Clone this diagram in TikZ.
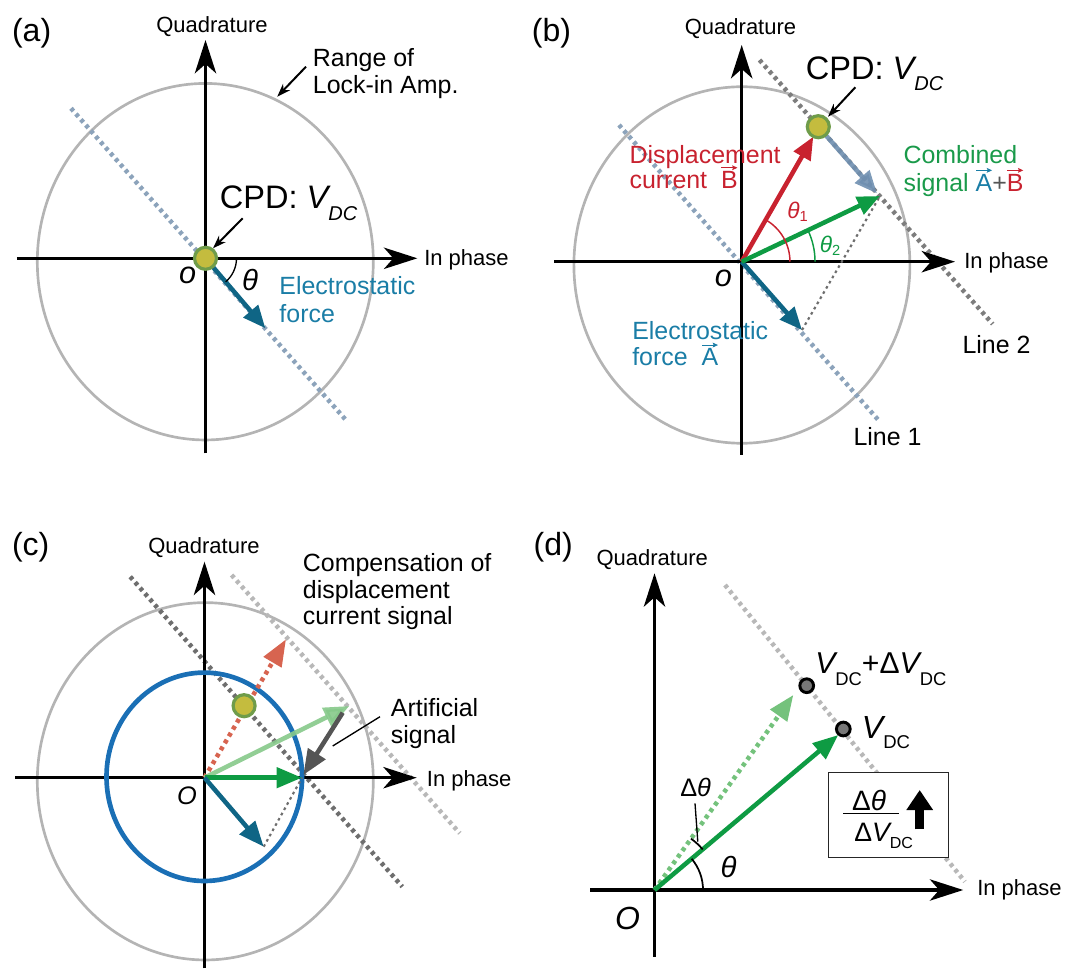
\documentclass[tikz,border=0pt]{standalone}
\usepackage{fontspec}
\setmainfont{Liberation Sans}
\usetikzlibrary{arrows.meta}
\definecolor{tealA}{HTML}{0F6585}
\definecolor{tealT}{HTML}{1A7DA6}
\definecolor{redA}{HTML}{C8222F}
\definecolor{greenA}{HTML}{0E9B43}
\definecolor{greenT}{HTML}{1A9A4A}
\definecolor{lgreen}{HTML}{86C98A}
\definecolor{lgreenD}{HTML}{74C27C}
\definecolor{salmon}{HTML}{D76450}
\definecolor{steel}{HTML}{6F8FB0}
\definecolor{bgdot}{HTML}{8CA3BB}
\definecolor{dgdot}{HTML}{6E6E6E}
\definecolor{mgdot}{HTML}{7D7D7D}
\definecolor{lgdot}{HTML}{B8B8B8}
\definecolor{darkarr}{HTML}{555555}
\definecolor{ringgray}{HTML}{B4B4B4}
\definecolor{blueC}{HTML}{1A6FB5}
\definecolor{dotfill}{HTML}{C4BC3E}
\definecolor{dotring}{HTML}{6F9C4A}
\definecolor{ddfill}{HTML}{777777}
\newcommand{\fsz}[1]{\fontsize{#1}{#1}\selectfont}
\newlength{\arrwd}
\newcommand{\arrv}[2]{\settowidth{\arrwd}{#2}\rlap{\smash{\raisebox{0.84em}{\tikz[baseline=0pt]\draw[draw=#1, line width=0.7pt, -{Stealth[length=4pt,width=3.6pt,inset=0.8pt]}] (0.5pt,0pt) -- (\arrwd,0pt);}}}\textcolor{#1}{#2}}
\tikzset{
  axis/.style={line width=2.3pt, -{Stealth[length=25pt,width=16pt,inset=7pt]}},
  rangeell/.style={draw=ringgray, line width=2pt},
  vecarr/.style={line width=3.4pt, -{Triangle[length=17pt,width=14pt]}},
  bigvec/.style={line width=3.4pt, -{Triangle[length=19pt,width=15pt]}},
  dotline/.style={line width=3.4pt, dash pattern=on 2.8pt off 2.8pt},
  thindot/.style={draw=dgdot, line width=1.6pt, dash pattern=on 2pt off 2.5pt},
  cpddot/.style={circle, fill=dotfill, draw=dotring, line width=2.4pt, minimum size=16.5pt, inner sep=0pt},
  grdot/.style={circle, fill=ddfill, draw=black, line width=2.2pt, minimum size=10.3pt, inner sep=0pt},
  lbl/.style={inner sep=0pt, anchor=base west},
  clbl/.style={inner sep=0pt, anchor=base},
  ptr/.style={line width=1.5pt, -{Stealth[length=10pt,width=7pt]}},
  axlbl/.style={font=\fsz{16.5}},
  desc/.style={font=\fsz{18.7}},
  panel/.style={font=\fsz{24}},
}
\begin{document}
\begin{tikzpicture}[x=0.75pt,y=0.75pt]
\useasboundingbox (0,0) rectangle (1067,-969);

%================ (a) =================
\coordinate (Oa) at (205.5,-258.3);
\coordinate (Ea) at (205.3,-261.7);
\draw[rangeell] (Ea) ellipse [x radius=126pt, y radius=133.7pt];
\coordinate (L1a) at (71,-108.3);
\coordinate (L2a) at (346.5,-420.7);
\draw[dotline, bgdot] (L1a) -- (L2a);
\coordinate (axaL) at (16.9,-258.3);
\coordinate (axaR) at (417.3,-258.3);
\coordinate (axaB) at (205.5,-453.3);
\coordinate (axaT) at (205.5,-40);
\draw[axis] (axaL) -- (axaR);
\draw[axis] (axaB) -- (axaT);
\coordinate (Ta) at (265.4,-328.3);
\draw[vecarr, tealA] (Oa) -- (Ta);
\draw[line width=1pt] (Oa) ++(0:23.25pt) arc[start angle=0, end angle=-49.4, radius=23.25pt];
\node[cpddot] (cpda) at (Oa) {};
\node (tha) at (250.2,-280) {\fsz{22}\itshape θ};
\node (oa) at (187.6,-275) {\fsz{23}\itshape o};
\node[lbl] (cpdta) at (219.7,-208.3) {\fsz{24.4}CPD: \itshape V\raisebox{-8.8pt}{\fsz{15}DC}};
\coordinate (pa1) at (242.7,-218.3);
\coordinate (pa2) at (213,-248.3);
\draw[ptr] (pa1) -- (pa2);
\node[lbl, desc] (rga1) at (312.7,-66.7) {Range of};
\node[lbl, desc] (rga2) at (312.7,-93.3) {Lock-in Amp.};
\coordinate (pr1) at (306,-66.7);
\coordinate (pr2) at (277.2,-96.7);
\draw[ptr] (pr1) -- (pr2);
\node[lbl, desc, text=tealT] (esa1) at (279.2,-295) {Electrostatic};
\node[lbl, desc, text=tealT] (esa2) at (279.2,-322.3) {force};
\node[lbl, axlbl] (ipa) at (424,-266) {In phase};
\node[clbl, axlbl] (qa) at (212,-33) {Quadrature};
\node[lbl, panel] (pna) at (11.8,-41.7) {(a)};

%================ (b) =================
\coordinate (Ob) at (741.7,-261.7);
\coordinate (Eb) at (741.9,-265);
\draw[rangeell] (Eb) ellipse [x radius=126pt, y radius=133.7pt];
\coordinate (L1b1) at (619,-125);
\coordinate (L1b2) at (878.3,-420);
\draw[dotline, bgdot] (L1b1) -- (L1b2);
\coordinate (L2b1) at (759.5,-60);
\coordinate (L2b2) at (992.7,-324);
\draw[dotline, mgdot] (L2b1) -- (L2b2);
\coordinate (axbL) at (554,-261.7);
\coordinate (axbR) at (955,-261.7);
\coordinate (axbB) at (741.7,-455);
\coordinate (axbT) at (741.7,-45);
\draw[axis] (axbL) -- (axbR);
\draw[axis] (axbB) -- (axbT);
\coordinate (Tb) at (802,-330);
\coordinate (Gb) at (880,-196);
\coordinate (Rb) at (813.3,-136.7);
\coordinate (Db) at (818.3,-126.7);
\coordinate (Sb) at (877,-193.5);
\draw[thindot] (Tb) -- (Gb);
\draw[vecarr, tealA] (Ob) -- (Tb);
\draw[vecarr, steel, opacity=0.9] (Db) -- (Sb);
\draw[vecarr, redA] (Ob) -- (Rb);
\draw[vecarr, greenA] (Ob) -- (Gb);
\draw[redA, line width=1.1pt] (Ob) ++(0:36.2pt) arc[start angle=0, end angle=60.2, radius=36.2pt];
\draw[greenA, line width=1.1pt] (Ob) ++(0:55pt) arc[start angle=0, end angle=25.4, radius=55pt];
\node[cpddot] (cpdb) at (Db) {};
\node[text=redA] (th1) at (797.5,-211.7) {\fsz{17}\itshape θ\raisebox{-2pt}{\fsz{11}\upshape 1}};
\node[text=greenA] (th2) at (830,-245.8) {\fsz{17}\itshape θ\raisebox{-2pt}{\fsz{11}\upshape 2}};
\node (ob) at (723.5,-278.3) {\fsz{23}\itshape o};
\node[lbl] (cpdtb) at (805.7,-80) {\fsz{24.4}CPD: \itshape V\raisebox{-8pt}{\fsz{15}DC}};
\coordinate (pb1) at (855.3,-87.3);
\coordinate (pb2) at (828,-116.7);
\draw[ptr] (pb1) -- (pb2);
\node[lbl, desc, text=redA] (dsb1) at (629.3,-163.3) {Displacement};
\node[lbl, desc, text=redA] (dsb2) at (629.3,-188.7) {current \ \arrv{redA}{B}};
\node[lbl, desc, text=greenT] (cbb1) at (903.3,-164) {Combined};
\node[lbl, desc, text=greenT] (cbb2) at (903.3,-191.3) {signal \arrv{tealT}{A}\textcolor{darkarr}{+}\arrv{redA}{B}};
\node[lbl, desc, text=tealT] (esb1) at (632,-339.3) {Electrostatic};
\node[lbl, desc, text=tealT] (esb2) at (632,-366) {force \ \arrv{tealT}{A}};
\node[lbl, desc] (ln2) at (962.3,-353.3) {Line 2};
\node[lbl, desc] (ln1) at (853.3,-446) {Line 1};
\node[lbl, axlbl] (ipb) at (964,-269) {In phase};
\node[clbl, axlbl] (qb) at (740.5,-34.5) {Quadrature};
\node[lbl, panel] (pnb) at (531.7,-41.7) {(b)};

%================ (c) =================
\coordinate (Oc) at (204.5,-777.7);
\coordinate (Ec) at (205.3,-781.3);
\draw[rangeell] (Ec) ellipse [x radius=126pt, y radius=134pt];
\coordinate (Dc1) at (130.2,-576.7);
\coordinate (Dc2) at (402.3,-886.7);
\draw[dotline, dgdot] (Dc1) -- (Dc2);
\coordinate (Lc1) at (231.6,-575);
\coordinate (Lc2) at (459.8,-833.3);
\draw[dotline, lgdot] (Lc1) -- (Lc2);
\coordinate (axcL) at (15.2,-777.7);
\coordinate (axcR) at (416.7,-777.7);
\coordinate (axcB) at (204.5,-968.3);
\coordinate (axcT) at (204.5,-561.7);
\draw[axis] (axcL) -- (axcR);
\draw[axis] (axcB) -- (axcT);
\coordinate (Bc) at (204.3,-776.8);
\draw[blueC, line width=3.5pt] (Bc) ellipse [x radius=73.35pt, y radius=78.15pt];
\coordinate (Rc) at (286,-639.3);
\coordinate (LGc) at (349.3,-706);
\coordinate (Gc) at (302,-777.7);
\coordinate (Tc) at (263.7,-846.7);
\coordinate (Ac1) at (342.7,-712.7);
\coordinate (Ac2) at (303.3,-775);
\draw[thindot] (Tc) -- (Gc);
\draw[line width=3.4pt, salmon, dash pattern=on 3pt off 3pt, -{Triangle[length=20pt,width=15pt]}] (Oc) -- (Rc);
\draw[bigvec, lgreen, opacity=0.9] (Oc) -- (LGc);
\draw[bigvec, greenA] (Oc) -- (Gc);
\draw[bigvec, tealA] (Oc) -- (Tc);
\draw[bigvec, darkarr] (Ac1) -- (Ac2);
\node[cpddot] (cpdc) at (244.1,-705.7) {};
\node (oc) at (187,-796) {\fsz{19}\itshape O};
\node[lbl, desc] (cmc1) at (302.7,-571.7) {Compensation of};
\node[lbl, desc] (cmc2) at (302.7,-598) {displacement};
\node[lbl, desc] (cmc3) at (302.7,-624.3) {current signal};
\node[lbl, desc] (arc1) at (390.7,-716.7) {Artificial};
\node[lbl, desc] (arc2) at (390.7,-743.3) {signal};
\coordinate (lc1) at (380,-716.7);
\coordinate (lc2) at (332.7,-746);
\draw[line width=1pt] (lc1) -- (lc2);
\node[lbl, axlbl] (ipc) at (426.7,-786.7) {In phase};
\node[clbl, axlbl] (qc) at (204,-553.3) {Quadrature};
\node[lbl, panel] (pnc) at (11.8,-555) {(c)};

%================ (d) =================
\coordinate (Od) at (654.5,-890);
\coordinate (Ld1) at (725,-585);
\coordinate (Ld2) at (964.9,-881.7);
\draw[dotline, lgdot] (Ld1) -- (Ld2);
\coordinate (axdL) at (590,-890);
\coordinate (axdR) at (963.2,-890);
\coordinate (axdB) at (654.5,-956.7);
\coordinate (axdT) at (654.5,-573.3);
\draw[axis] (axdL) -- (axdR);
\draw[axis] (axdB) -- (axdT);
\coordinate (LGd) at (793.3,-695);
\coordinate (Gd) at (838.3,-735);
\draw[line width=3.4pt, lgreenD, dash pattern=on 3pt off 3pt, -{Triangle[length=19pt,width=15pt]}] (Od) -- (LGd);
\draw[bigvec, greenA] (Od) -- (Gd);
\node[grdot] (d1) at (806.7,-685.7) {};
\node[grdot] (d2) at (843.3,-729) {};
\draw[line width=1.3pt] (Od) ++(0:36.4pt) arc[start angle=0, end angle=40.1, radius=36.4pt];
\draw[line width=1.3pt] (Od) ++(40.1:47.25pt) arc[start angle=40.1, end angle=54.6, radius=47.25pt];
\coordinate (ld1) at (697.8,-841.7);
\coordinate (ld2) at (695,-803.3);
\draw[line width=1pt] (ld1) -- (ld2);
\node[lbl] (vd1) at (815,-673.3) {\fsz{22.6}\itshape V\raisebox{-8.8pt}{\fsz{13.8}\upshape DC}\upshape +Δ\itshape V\raisebox{-8.8pt}{\fsz{13.8}\upshape DC}};
\node[lbl] (vd2) at (861.7,-738.3) {\fsz{24}\itshape V\raisebox{-7.5pt}{\fsz{13.9}\upshape DC}};
\node[draw=black!85, fill=white, line width=1.1pt, minimum width=90.15pt, minimum height=63.45pt, inner sep=0pt] (box) at (888.4,-815) {};
\node (num) at (869,-800) {\fsz{21}Δ\itshape θ};
\coordinate (bar1) at (843.4,-813.3);
\coordinate (bar2) at (899.2,-813.3);
\draw[line width=0.9pt] (bar1) -- (bar2);
\node[lbl] (den) at (854,-841.7) {\fsz{20}Δ\itshape V\raisebox{-5pt}{\fsz{12}\upshape DC}};
\coordinate (up1) at (919.7,-829.3);
\coordinate (up2) at (919.7,-790);
\draw[line width=6.5pt, -{Triangle[length=15pt,width=19pt]}] (up1) -- (up2);
\node[lbl] (dth) at (680,-796.7) {\fsz{19}Δ\itshape θ};
\node (thd) at (728.6,-866.7) {\fsz{22}\itshape θ};
\node (od) at (627.6,-918.3) {\fsz{24}\itshape O};
\node[lbl, axlbl] (ipd) at (977,-895) {In phase};
\node[clbl, axlbl] (qd) at (652.2,-565) {Quadrature};
\node[lbl, panel] (pnd) at (533.4,-555) {(d)};
\end{tikzpicture}
\end{document}
